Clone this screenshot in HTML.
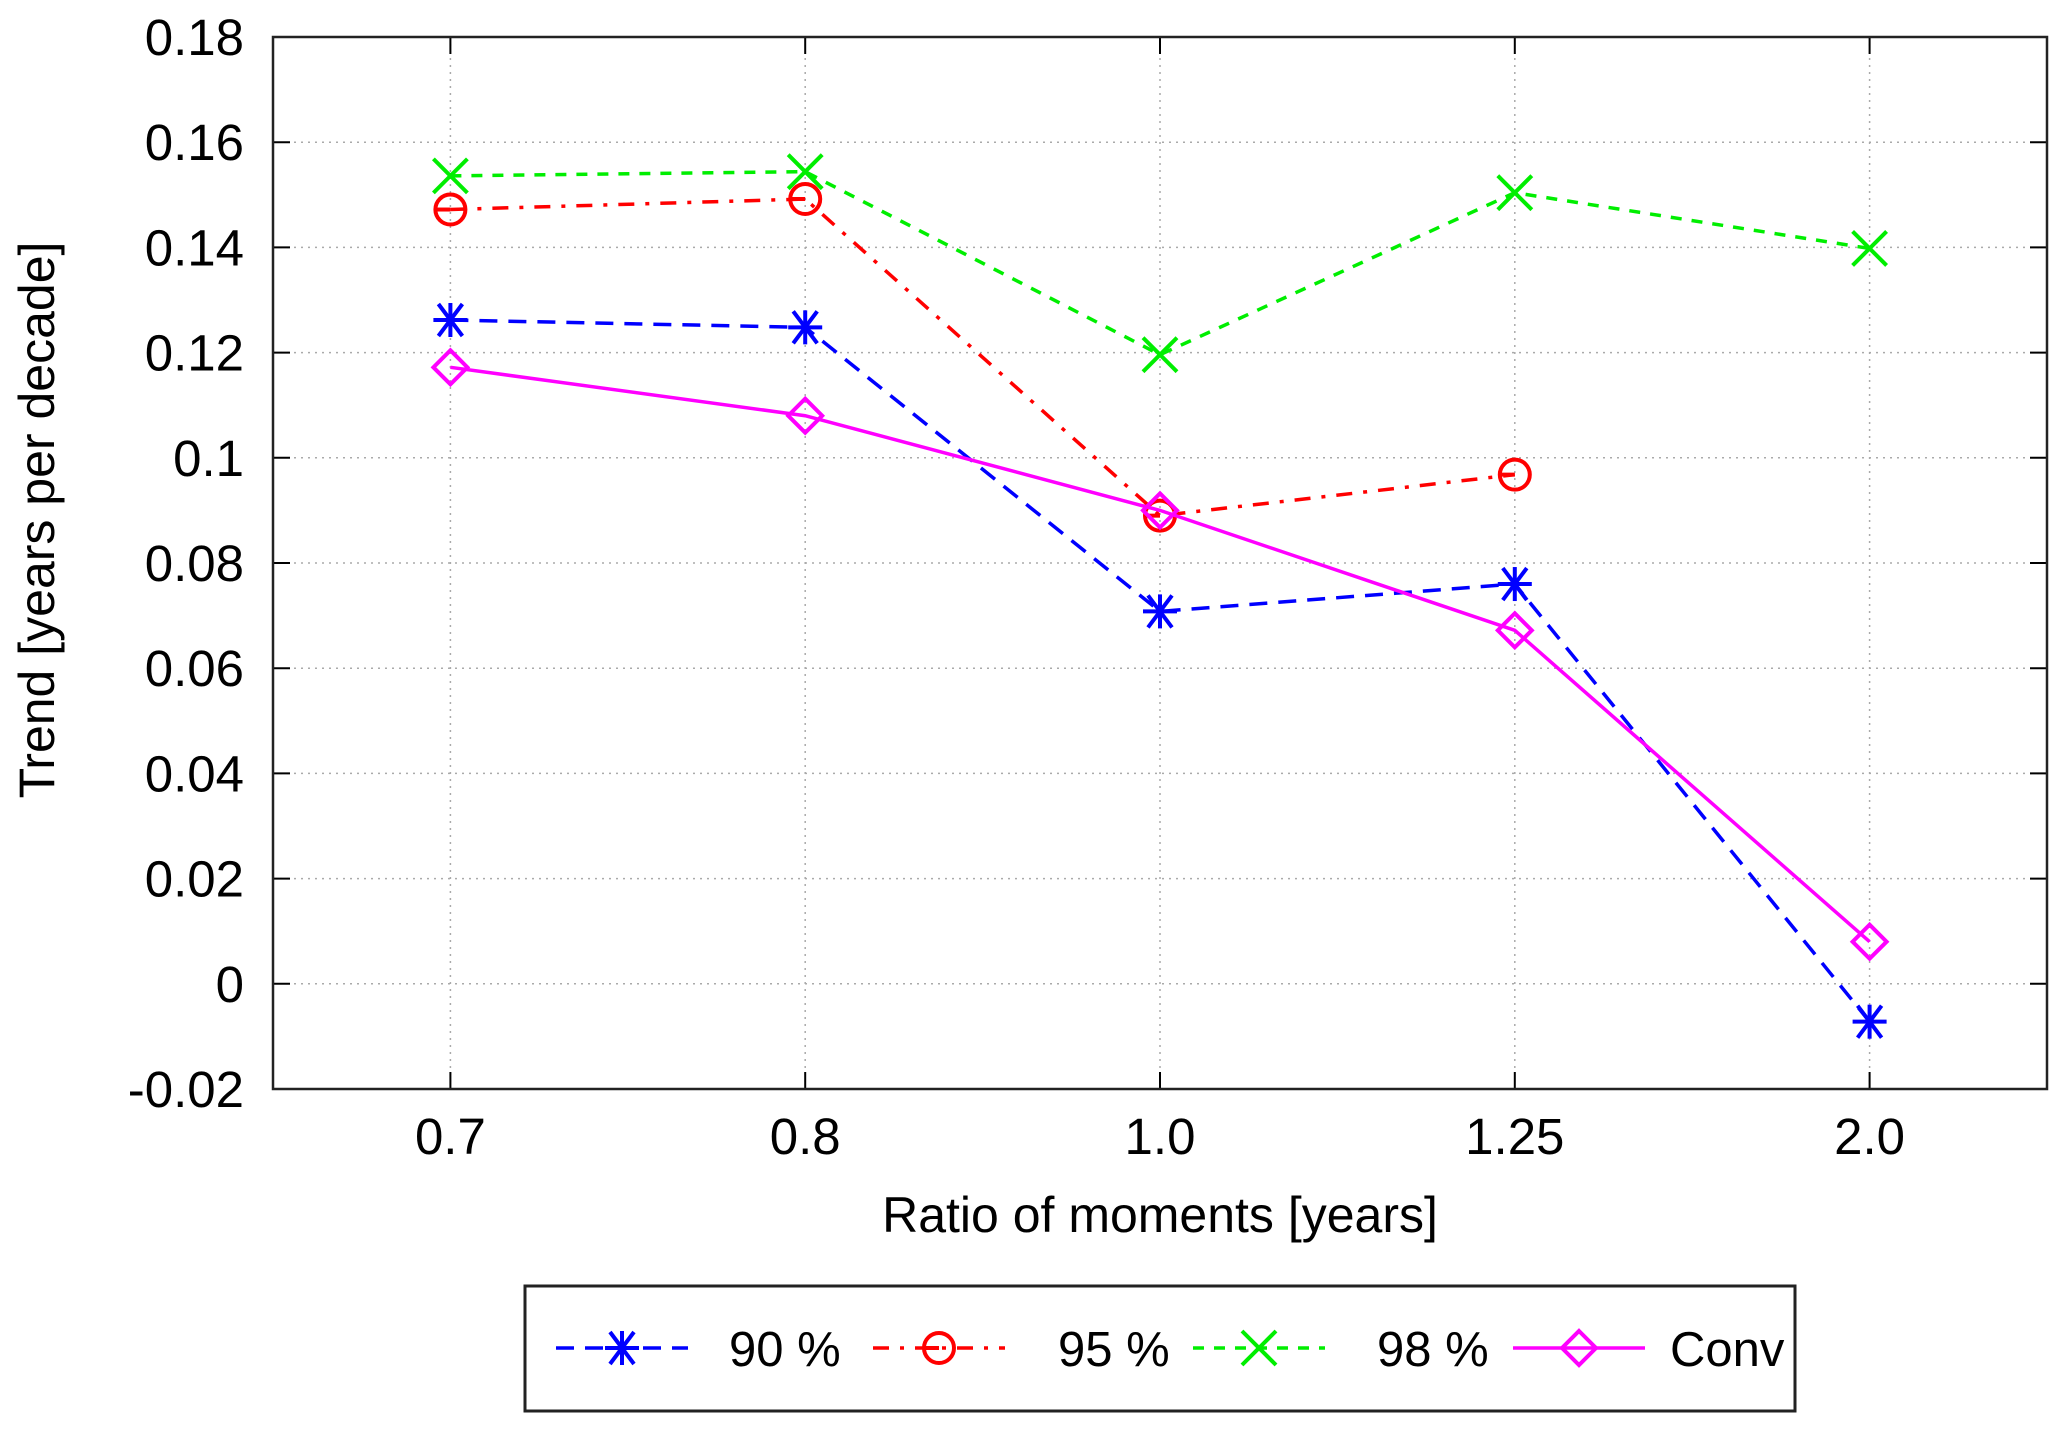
<!DOCTYPE html>
<html><head><meta charset="utf-8"><style>
body{margin:0;background:#fff}
svg{display:block}
text{font-family:"Liberation Sans",sans-serif;fill:#000}
</style></head><body>
<svg id="chart" width="2067" height="1430" viewBox="0 0 2067 1430" xmlns="http://www.w3.org/2000/svg">
<g id="grid"></g>
<g id="axes"></g>
<g id="series"></g>
<g id="legend"></g>
</svg>
<script>
const categories = ["0.7","0.8","1.0","1.25","2.0"];
const yTicks = [-0.02,0,0.02,0.04,0.06,0.08,0.1,0.12,0.14,0.16,0.18];
const yTickLabels = ["-0.02","0","0.02","0.04","0.06","0.08","0.1","0.12","0.14","0.16","0.18"];
const s90 = [0.1262,0.1248,0.0708,0.0760,-0.0072];
const s95 = [0.1472,0.1492,0.0890,0.0968,null];
const s98 = [0.1536,0.1544,0.1196,0.1504,0.1398];
const sConv = [0.1172,0.1080,0.0900,0.0672,0.0080];
const seriesNames = ["90 %","95 %","98 %","Conv"];

const NS="http://www.w3.org/2000/svg";
const L=273,R=2047,T=37,B=1089,yMin=-0.02,yMax=0.18;
function xs(i){return L+(i+0.5)*(R-L)/categories.length;}
function ys(v){return B-(v-yMin)/(yMax-yMin)*(B-T);}
function mk(tag,attrs,parent){const e=document.createElementNS(NS,tag);for(const k in attrs)e.setAttribute(k,attrs[k]);parent.appendChild(e);return e;}
const grid=document.getElementById('grid'),axes=document.getElementById('axes'),ser=document.getElementById('series'),leg=document.getElementById('legend');

yTicks.forEach((v,i)=>{
  const y=ys(v);
  if(i>0&&i<yTicks.length-1){const g=mk('line',{x1:L,x2:R,y1:y,y2:y,stroke:'#aaa','stroke-width':1.5,'stroke-dasharray':'2,5'},grid);
  
  }
  mk('line',{x1:L,x2:L+17,y1:y,y2:y,stroke:'#000','stroke-width':2},axes);
  mk('line',{x1:R-17,x2:R,y1:y,y2:y,stroke:'#000','stroke-width':2},axes);
  const t=mk('text',{x:244,y:y+18,'text-anchor':'end','font-size':51},axes);
  t.textContent=yTickLabels[i];
  
  
});
categories.forEach((c,i)=>{
  const x=xs(i);
  const g=mk('line',{x1:x,x2:x,y1:T,y2:B,stroke:'#aaa','stroke-width':1.5,'stroke-dasharray':'2,5'},grid);
  
  
  mk('line',{x1:x,x2:x,y1:T,y2:T+17,stroke:'#000','stroke-width':2},axes);
  mk('line',{x1:x,x2:x,y1:B-17,y2:B,stroke:'#000','stroke-width':2},axes);
  const t=mk('text',{x:x,y:1154,'text-anchor':'middle','font-size':51},axes);
  t.textContent=c;
  
  
});
const fr=mk('rect',{x:L,y:T,width:R-L,height:B-T,fill:'none',stroke:'#222','stroke-width':2.5},axes);


const xt=mk('text',{x:1160,y:1232,'text-anchor':'middle','font-size':50},axes);
xt.textContent='Ratio of moments [years]';


const yt=mk('text',{x:0,y:0,'text-anchor':'middle','font-size':50,transform:'translate(54,520) rotate(-90)'},axes);
yt.textContent='Trend [years per decade]';



function marker(type,x,y,color,parent){
  const g=mk('g',{stroke:color,'stroke-width':4,fill:'none'},parent);
  const r=17;
  if(type==='star'){
    mk('line',{x1:x-r,x2:x+r,y1:y,y2:y},g);mk('line',{x1:x,x2:x,y1:y-r,y2:y+r},g);
    mk('line',{x1:x-12,x2:x+12,y1:y-16,y2:y+16},g);mk('line',{x1:x-12,x2:x+12,y1:y+16,y2:y-16},g);
  }else if(type==='circle'){
    mk('circle',{cx:x,cy:y,r:15},g);mk('line',{x1:x-15,x2:x,y1:y,y2:y},g);
  }else if(type==='x'){
    mk('line',{x1:x-r,x2:x+r,y1:y-r,y2:y+r},g);mk('line',{x1:x-r,x2:x+r,y1:y+r,y2:y-r},g);
  }else{
    mk('polygon',{points:`${x},${y-r} ${x+r},${y} ${x},${y+r} ${x-r},${y}`},g);
  }
  return g;
}
const defs=[
 {data:s90,color:'#0000ff',dash:'18,11',m:'star',name:'series-90'},
 {data:s95,color:'#ff0000',dash:'16,11,4,11',m:'circle',name:'series-95'},
 {data:s98,color:'#00ee00',dash:'11,10',m:'x',name:'series-98'},
 {data:sConv,color:'#ff00ff',dash:'',m:'diamond',name:'series-conv'}];
defs.forEach((d,si)=>{
  const g=mk('g',{},ser);
  
  
  const pts=[];d.data.forEach((v,i)=>{if(v!==null)pts.push(xs(i)+','+ys(v));});
  const pl=mk('polyline',{points:pts.join(' '),fill:'none',stroke:d.color,'stroke-width':3.5},g);
  if(d.dash)pl.setAttribute('stroke-dasharray',d.dash);
  
  
  d.data.forEach((v,i)=>{if(v===null)return;const m=marker(d.m,xs(i),ys(v),d.color,g);
    
    });
});
const lb=mk('rect',{x:525,y:1286,width:1270,height:125,fill:'#fff',stroke:'#222','stroke-width':3},leg);


const lx=[556,873,1193,1513],tx=[729,1058,1377,1670];
defs.forEach((d,i)=>{
  const g=mk('g',{},leg);
  
  
  const ln=mk('line',{x1:lx[i],x2:lx[i]+132,y1:1348,y2:1348,stroke:d.color,'stroke-width':3.5},g);
  if(d.dash)ln.setAttribute('stroke-dasharray',d.dash);
  marker(d.m,lx[i]+66,1348,d.color,g);
  const t=mk('text',{x:tx[i],y:1366,'font-size':49},g);
  t.textContent=seriesNames[i];
});
</script>
</body></html>
